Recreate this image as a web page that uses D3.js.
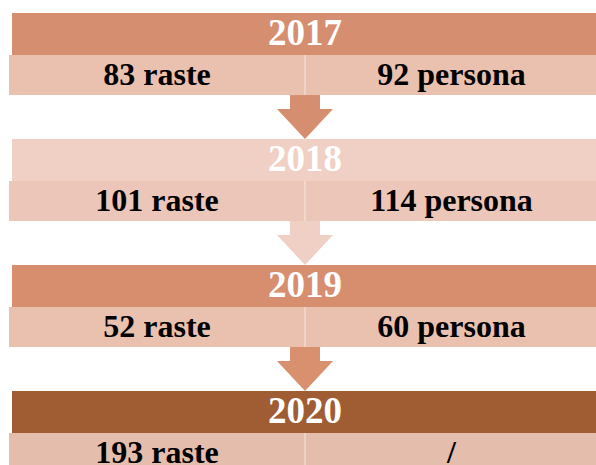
<html>
<script src="https://cdn.jsdelivr.net/npm/d3@7"></script>
<style>
body {margin:0; background:#fff;}
text {font-family: "Liberation Serif", "Times New Roman", serif; font-weight: bold;}
</style>
<body>
<svg width="596" height="465"></svg>
<script>
// data
var years = ["2017", "2018", "2019", "2020"];
var leftLabels = ["83 raste", "101 raste", "52 raste", "193 raste"];
var rightLabels = ["92 persona", "114 persona", "60 persona", "/"];

// styles per row
var headFill = ["#d58e6f", "#f0d0c5", "#d68e6f", "#a05c33"];
var subFill = ["#eac0ae", "#ecc6b8", "#eac0ae", "#e5bdad"];
var arrowFill = ["#d58e6f", "#f0d0c5", "#d8906f"];

var svg = d3.select("svg");

var y = d3.scaleBand().domain(years).range([13, 13 + 126 * years.length]);
var x = d3.scaleLinear().domain([0, 1]).range([9, 600]);
var xHead = d3.scaleLinear().domain([0, 1]).range([12, 600]);

var headH = 42, subH = 40;
var cx = 305;

var rows = svg.selectAll("g.row").data(years).enter().append("g")
  .attr("class", "row")
  .attr("transform", function(d) { return "translate(0," + y(d) + ")"; });

// arrows between rows
rows.filter(function(d, i) { return i < years.length - 1; })
  .append("path")
  .attr("d", function() {
    var t = headH + subH, h = y.bandwidth();
    return "M" + (cx - 15) + "," + t +
      "L" + (cx + 15) + "," + t +
      "L" + (cx + 15) + "," + (t + 14) +
      "L" + (cx + 28) + "," + (t + 14) +
      "L" + cx + "," + h +
      "L" + (cx - 28) + "," + (t + 14) +
      "L" + (cx - 15) + "," + (t + 14) + "Z";
  })
  .attr("fill", function(d, i) { return arrowFill[i]; });

// header bar
rows.append("rect")
  .attr("x", xHead(0)).attr("y", 0)
  .attr("width", xHead(1) - xHead(0)).attr("height", headH)
  .attr("fill", function(d, i) { return headFill[i]; });

rows.append("text")
  .attr("x", cx).attr("y", 32)
  .attr("text-anchor", "middle")
  .attr("fill", "#fff")
  .style("font-size", "37px")
  .text(function(d) { return d; });

// sub row, two cells
rows.append("rect")
  .attr("x", x(0)).attr("y", headH)
  .attr("width", x(1) - x(0)).attr("height", subH)
  .attr("fill", function(d, i) { return subFill[i]; });

rows.append("line")
  .attr("x1", 305).attr("x2", 305)
  .attr("y1", headH).attr("y2", headH + subH)
  .attr("stroke", "#fff").attr("stroke-opacity", 0.3).attr("stroke-width", 2);

rows.append("text")
  .attr("x", (x(0) + 305) / 2).attr("y", headH + 30)
  .attr("text-anchor", "middle")
  .attr("fill", "#000")
  .style("font-size", "32px")
  .text(function(d, i) { return leftLabels[i]; });

rows.append("text")
  .attr("x", (305 + 598) / 2).attr("y", headH + 30)
  .attr("text-anchor", "middle")
  .attr("fill", "#000")
  .style("font-size", "32px")
  .text(function(d, i) { return rightLabels[i]; });
</script>
</body>
</html>
